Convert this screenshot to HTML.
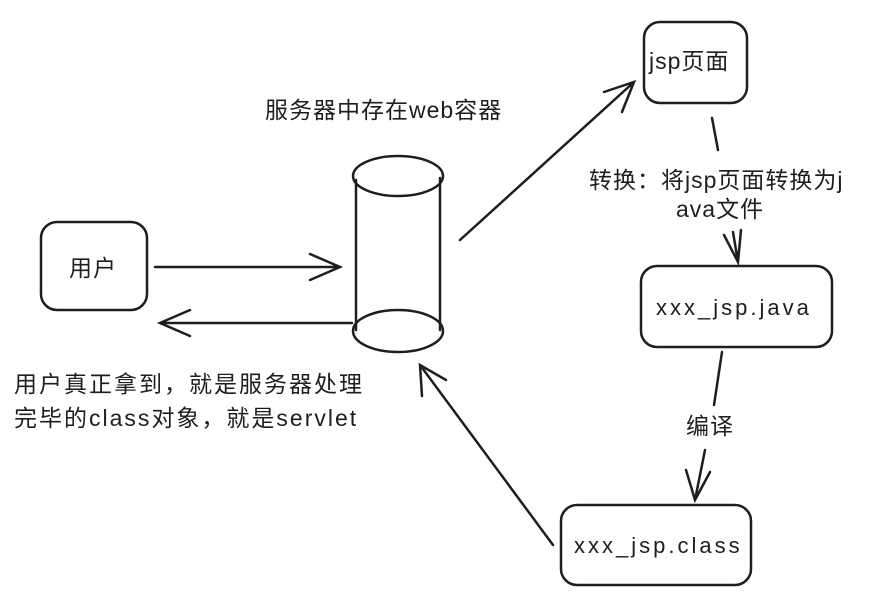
<!DOCTYPE html>
<html><head><meta charset="utf-8"><style>
body{margin:0;background:#fff;width:873px;height:599px;overflow:hidden;position:relative;font-family:"Liberation Sans","Noto Sans CJK SC",sans-serif;color:#1e1e1e}
.t{position:absolute;font-size:23px;white-space:nowrap;line-height:34px;letter-spacing:1px}
.l{letter-spacing:3px;font-size:22px}
</style></head><body>
<svg width="873" height="599" style="position:absolute;left:0;top:0" fill="none" stroke="#1e1e1e" stroke-width="2.5" stroke-linecap="round">
<rect x="41" y="222" width="106" height="88" rx="16"/>
<rect x="644" y="22" width="103" height="81" rx="16"/>
<rect x="641" y="266" width="191" height="81" rx="16"/>
<rect x="561" y="505" width="190" height="80" rx="16"/>
<ellipse cx="398" cy="176" rx="45" ry="20"/>
<ellipse cx="398" cy="331" rx="45" ry="21"/>
<line x1="356" y1="180" x2="356" y2="330"/>
<line x1="440" y1="178" x2="440" y2="330"/>
<path d="M155 267 L340 267 M310 254 L340 267 L310 280"/>
<path d="M352 323 L160 323 M190 310 L160 323 L190 336"/>
<path d="M460 240 L634 82 M604 92 L634 82 L622 112"/>
<path d="M712 118 L718 150"/>
<path d="M733 232 L738 262 M724 235 L738 262 L741 230"/>
<path d="M722 352 L714 405 M705 450 L695 500 M686 470 L695 500 L710 472"/>
<path d="M553 545 L420 365 M422 396 L420 365 L446 380"/>
</svg>
<div class="t" style="left:69px;top:251px">用户</div>
<div class="t" style="left:649px;top:44px">jsp页面</div>
<div class="t l" style="left:656px;top:291px">xxx_jsp.java</div>
<div class="t l" style="left:574px;top:529px">xxx_jsp.class</div>
<div class="t" style="left:265px;top:93px">服务器中存在web容器</div>
<div class="t" style="left:589px;top:163px">转换：将jsp页面转换为j</div>
<div class="t" style="left:676px;top:192px">ava文件</div>
<div class="t" style="left:686px;top:409px">编译</div>
<div class="t" style="left:14px;top:367px;letter-spacing:2px">用户真正拿到，就是服务器处理</div>
<div class="t" style="left:14px;top:401px;letter-spacing:2px">完毕的class对象，就是servlet</div>
</body></html>
